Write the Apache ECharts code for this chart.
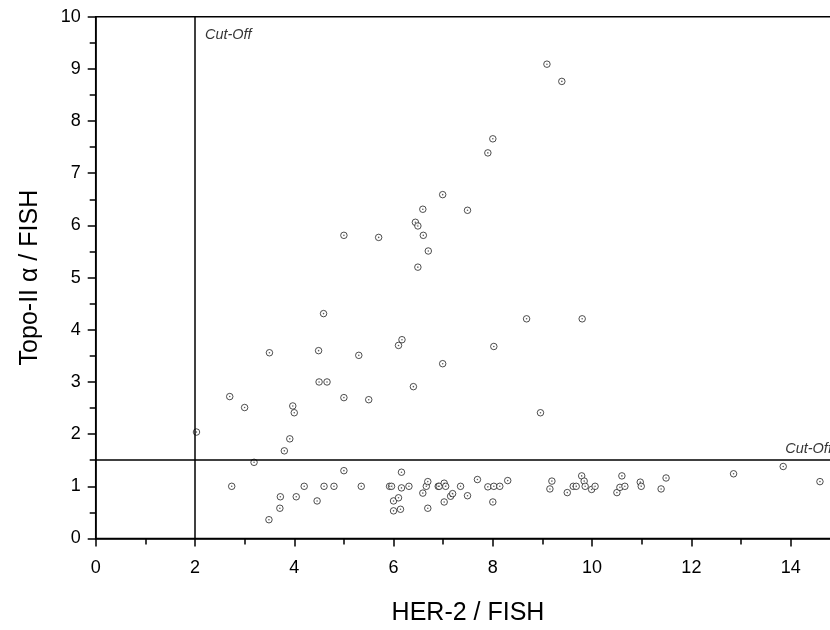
<!DOCTYPE html>
<html>
<head>
<meta charset="utf-8">
<script src="https://cdn.jsdelivr.net/npm/echarts@6/dist/echarts.min.js"></script>
<style>html,body{margin:0;padding:0;background:#fff}#c{width:830px;height:630px}</style>
</head>
<body>
<div id="c"></div>
<script>
// HER-2 / FISH ratio (x) and Topo-II alpha / FISH ratio (y)
var her2 = [
  2.03, 2.70, 3.00, 3.50, 3.80, 3.91, 3.97, 4.00, 4.49, 4.50, 4.59, 4.66, 5.00, 5.00, 5.30, 5.50, 5.70,
  6.10, 6.17, 6.40, 6.44, 6.49, 6.49, 6.59, 6.60, 6.70, 6.99, 6.99, 7.49, 7.90, 8.00, 8.02, 8.68, 8.96,
  9.09, 9.39, 9.80,
  2.74, 3.19, 3.49, 3.72, 3.71, 4.04, 4.20, 4.46, 4.60, 4.80, 5.00, 5.35, 5.92, 5.96, 6.00, 6.10, 6.00,
  6.14, 6.16, 6.16, 6.31, 6.59, 6.66, 6.69, 6.69, 6.90, 6.92, 7.02, 7.05, 7.02, 7.15, 7.19, 7.35, 7.49,
  7.69, 7.90, 8.00, 8.02, 8.14, 8.30, 9.15, 9.19, 9.50, 9.62, 9.68, 9.79, 9.84, 9.86, 9.99, 10.06,
  10.50, 10.56, 10.60, 10.66, 10.97, 10.99, 11.39, 11.49, 12.85, 13.85, 14.59
];
var topo2a = [
  2.04, 2.72, 2.51, 3.56, 1.68, 1.91, 2.54, 2.41, 3.60, 3.00, 4.31, 3.00, 5.81, 2.70, 3.51, 2.66, 5.77,
  3.70, 3.81, 2.91, 6.06, 5.99, 5.20, 6.31, 5.81, 5.51, 6.59, 3.35, 6.29, 7.39, 7.66, 3.68, 4.21, 2.41,
  9.09, 8.76, 4.21,
  1.00, 1.46, 0.36, 0.80, 0.58, 0.80, 1.00, 0.72, 1.00, 1.00, 1.30, 1.00, 1.00, 1.00, 0.72, 0.78, 0.53,
  0.56, 1.27, 0.97, 1.00, 0.87, 1.00, 1.09, 0.58, 1.00, 1.00, 1.06, 1.00, 0.70, 0.81, 0.86, 1.00, 0.82,
  1.13, 0.99, 0.70, 1.00, 1.00, 1.11, 0.95, 1.10, 0.88, 1.00, 1.00, 1.20, 1.10, 1.00, 0.94, 1.00,
  0.88, 0.98, 1.20, 1.00, 1.08, 1.00, 0.95, 1.16, 1.24, 1.38, 1.09
];
var xTicks = [0, 2, 4, 6, 8, 10, 12, 14];
var yTicks = [0, 1, 2, 3, 4, 5, 6, 7, 8, 9, 10];
var cutOffHer2 = 2;
var cutOffTopo = 1.5;
var cutOffText = 'Cut-Off';
var cutOffLabelPos = [[2.2, 9.65], [13.89, 1.72]];

var points = her2.map(function (x, i) { return [x, topo2a[i]]; });
var FONT = '"Liberation Sans", Arial, sans-serif';

var chart = echarts.init(document.getElementById('c'), null, {renderer: 'canvas'});
chart.setOption({
  backgroundColor: '#ffffff',
  animation: false,
  grid: {left: 95.7, top: 16.7, width: 744.6, height: 521.8, show: true,
         outerBoundsMode: 'none', containLabel: false,
         borderColor: '#000', borderWidth: 1.5, backgroundColor: 'transparent'},
  xAxis: {
    type: 'value', min: 0, max: 15, interval: 2,
    name: 'HER-2 / FISH', nameLocation: 'middle', nameGap: 62,
    nameTextStyle: {fontFamily: FONT, fontSize: 25, color: '#000'},
    axisLine: {show: true, onZero: false, lineStyle: {color: '#000', width: 1.5}},
    axisTick: {show: true, inside: false, length: 8, lineStyle: {color: '#000', width: 1.5}},
    minorTick: {show: true, splitNumber: 2, length: 6, lineStyle: {color: '#000', width: 1.5}},
    splitLine: {show: false},
    axisLabel: {fontFamily: FONT, fontSize: 18, color: '#000', margin: 21,
      formatter: function (v) { return xTicks.indexOf(v) >= 0 ? String(v) : ''; }}
  },
  yAxis: {
    type: 'value', min: 0, max: 10, interval: 1,
    name: 'Topo-II α / FISH', nameLocation: 'middle', nameGap: 53.5,
    nameTextStyle: {fontFamily: FONT, fontSize: 25, color: '#000'},
    axisLine: {show: true, onZero: false, lineStyle: {color: '#000', width: 1.5}},
    axisTick: {show: true, inside: false, length: 8, lineStyle: {color: '#000', width: 1.5}},
    minorTick: {show: true, splitNumber: 2, length: 6, lineStyle: {color: '#000', width: 1.5}},
    splitLine: {show: false},
    axisLabel: {fontFamily: FONT, fontSize: 18, color: '#000', margin: 15,
      formatter: function (v) { return yTicks.indexOf(v) >= 0 ? String(v) : ''; }}
  },
  series: [
    {
      type: 'scatter', data: points, symbol: 'circle', symbolSize: 6.5,
      itemStyle: {color: '#ffffff', borderColor: '#222', borderWidth: 1},
      silent: true, z: 3,
      markLine: {
        silent: true, symbol: ['none', 'none'], label: {show: false},
        lineStyle: {color: '#000', width: 1.5, type: 'solid'},
        data: [{xAxis: cutOffHer2}, {yAxis: cutOffTopo}]
      }
    },
    {
      type: 'scatter', data: points, symbol: 'circle', symbolSize: 1.6,
      itemStyle: {color: '#333'}, silent: true, z: 4
    },
    {
      type: 'scatter', data: cutOffLabelPos, symbolSize: 0, silent: true, z: 5,
      label: {show: true, position: 'right', distance: 0, formatter: cutOffText,
        fontFamily: FONT, fontStyle: 'italic', fontSize: 14.5, color: '#000'}
    }
  ]
});
</script>
</body>
</html>
